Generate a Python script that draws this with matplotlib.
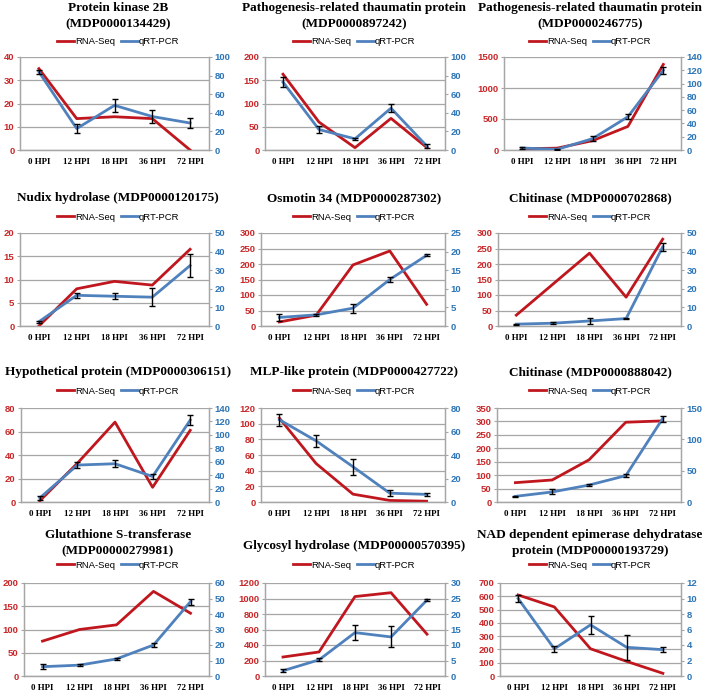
import numpy as np
import matplotlib.pyplot as plt

plt.rc('font', family='Liberation Sans')

hpi = ["0 HPI", "12 HPI", "18 HPI", "36 HPI", "72 HPI"]

titles = [
    "Protein kinase 2B\n(MDP0000134429)",
    "Pathogenesis-related thaumatin protein\n(MDP0000897242)",
    "Pathogenesis-related thaumatin protein\n(MDP0000246775)",
    "Nudix hydrolase (MDP0000120175)",
    "Osmotin 34 (MDP0000287302)",
    "Chitinase (MDP0000702868)",
    "Hypothetical protein (MDP0000306151)",
    "MLP-like protein (MDP0000427722)",
    "Chitinase (MDP0000888042)",
    "Glutathione S-transferase\n(MDP00000279981)",
    "Glycosyl hydrolase (MDP00000570395)",
    "NAD dependent epimerase dehydratase\nprotein (MDP00000193729)",
]

rna_seq = [
    [35, 13.5, 14.3, 13.5, 0],
    [163, 60, 5, 68, 5],
    [20, 30, 150, 380, 1380],
    [0, 8, 9.6, 8.8, 16.5],
    [13, 35, 197, 242, 70],
    [35, 135, 235, 93, 280],
    [1, 33, 68, 12.5, 61],
    [107, 49, 10, 2, 1],
    [72, 82, 157, 297, 302],
    [75, 100, 110, 182, 135],
    [245, 310, 1025, 1075, 540],
    [610, 520, 205, 110, 20],
]

qrt_pcr = [
    [84, 23, 48, 36, 29],
    [73, 22, 12, 45, 4],
    [3, 1, 17, 50, 120],
    [2.3, 16.5, 16, 15.5, 32.5],
    [2.3, 3, 4.8, 12.5, 19],
    [1, 1.5, 2.7, 4, 42.5],
    [6, 55, 57, 38, 122],
    [70, 52, 30, 7.5, 6.5],
    [9, 16, 27, 42, 133],
    [6, 7, 11, 20, 48],
    [1.7, 5.2, 14, 12.6, 24.5],
    [10, 3.5, 6.6, 3.7, 3.4],
]

qrt_err = [
    [2, 5, 7, 7, 5],
    [5, 4, 1, 4, 2],
    [1, 1, 4, 4, 5],
    [0.5, 1.5, 1.5, 5, 6],
    [1, 0.3, 1.2, 0.6, 0.3],
    [0.3, 0.4, 1.5, 0.4, 2],
    [3, 4, 5, 4, 8],
    [5, 5, 7, 2.5, 1.5],
    [1, 4, 2, 2, 5],
    [1.5, 0.5, 0.5, 1, 2],
    [0.4, 0.5, 2.3, 3.4, 0.4],
    [0.5, 0.4, 1.2, 1.6, 0.3],
]

left_scale = [(40, 10), (200, 50), (1500, 500), (20, 5), (300, 50), (300, 50),
              (80, 20), (120, 20), (350, 50), (200, 50), (1200, 200), (700, 100)]
right_scale = [(100, 20), (100, 20), (140, 20), (50, 10), (25, 5), (50, 10),
               (140, 20), (80, 20), (150, 50), (60, 10), (30, 5), (12, 2)]

red = '#C0171F'
blue = '#4F81BD'
red_txt = '#C8282A'
blue_txt = '#2E75B6'
grid_c = '#A6A6A6'

W, H = 708, 694
fig = plt.figure(figsize=(W / 100, H / 100), dpi=100)

# pixel layout
ax_left = [20, 29, 32, 20, 25, 26, 21, 25, 25, 24, 29, 28]
ax_right = 209
row_top = [57, 233, 408, 583]
row_bot = [150, 326, 502, 676]
row_off = [0, 174, 348, 522]
legend_y = [42, 217, 391, 565]
title2_off = [16, 16, 16, 21]  # centre of two-line titles, per row

for i in range(12):
    r, c = divmod(i, 3)
    x0 = c * 236
    l = x0 + ax_left[i]
    rgt = x0 + ax_right
    ax = fig.add_axes([l / W, 1 - row_bot[r] / H, (rgt - l) / W, (row_bot[r] - row_top[r]) / H])
    ax2 = ax.twinx()
    x = np.arange(5)

    l1, = ax.plot(x, rna_seq[i], color=red, lw=2, label='RNA-Seq', zorder=3)
    l2, = ax2.plot(x, qrt_pcr[i], color=blue, lw=2, label='qRT-PCR', zorder=3)
    ax2.errorbar(x, qrt_pcr[i], yerr=qrt_err[i], fmt='none', ecolor='black',
                 elinewidth=1, capsize=2, capthick=1, zorder=4)

    lm, ls = left_scale[i]
    rm, rs = right_scale[i]
    ax.set_ylim(0, lm)
    ax.set_yticks(np.arange(0, lm + ls / 2, ls))
    ax2.set_ylim(0, rm)
    ax2.set_yticks(np.arange(0, rm + rs / 2, rs))
    ax.set_xlim(-0.5, 4.5)
    ax.set_xticks(x)
    ax.set_xticklabels(hpi, family='Liberation Serif', fontweight='bold', fontsize=6.4)

    ax.yaxis.grid(True, color=grid_c, lw=0.9)
    ax.set_axisbelow(True)
    for a in (ax, ax2):
        a.spines['top'].set_visible(False)
        for s in ('left', 'right', 'bottom'):
            a.spines[s].set_color(grid_c)
            a.spines[s].set_linewidth(0.9)
    ax.tick_params(axis='y', colors=grid_c, labelcolor=red_txt, labelsize=6.8, length=2, pad=2)
    ax2.tick_params(axis='y', colors=grid_c, labelcolor=blue_txt, labelsize=6.8, length=2, pad=2)
    ax.tick_params(axis='x', length=0, pad=6)
    for t in ax.get_yticklabels() + ax2.get_yticklabels():
        t.set_fontweight('bold')

    cx = (x0 + 118) / W
    n_lines = titles[i].count('\n') + 1
    ty = row_off[r] + (title2_off[r] if n_lines == 2 else 24)
    fig.text(cx, 1 - ty / H, titles[i], ha='center', va='center',
             family='Liberation Serif', fontweight='bold', fontsize=9.5, linespacing=1.5)
    fig.legend(handles=[l1, l2], loc='center', bbox_to_anchor=(cx, 1 - legend_y[r] / H),
               ncol=2, frameon=False, fontsize=6.8, handlelength=1.8, handletextpad=0.1,
               columnspacing=0.6, borderpad=0)

fig.savefig('out.png', dpi=100)
